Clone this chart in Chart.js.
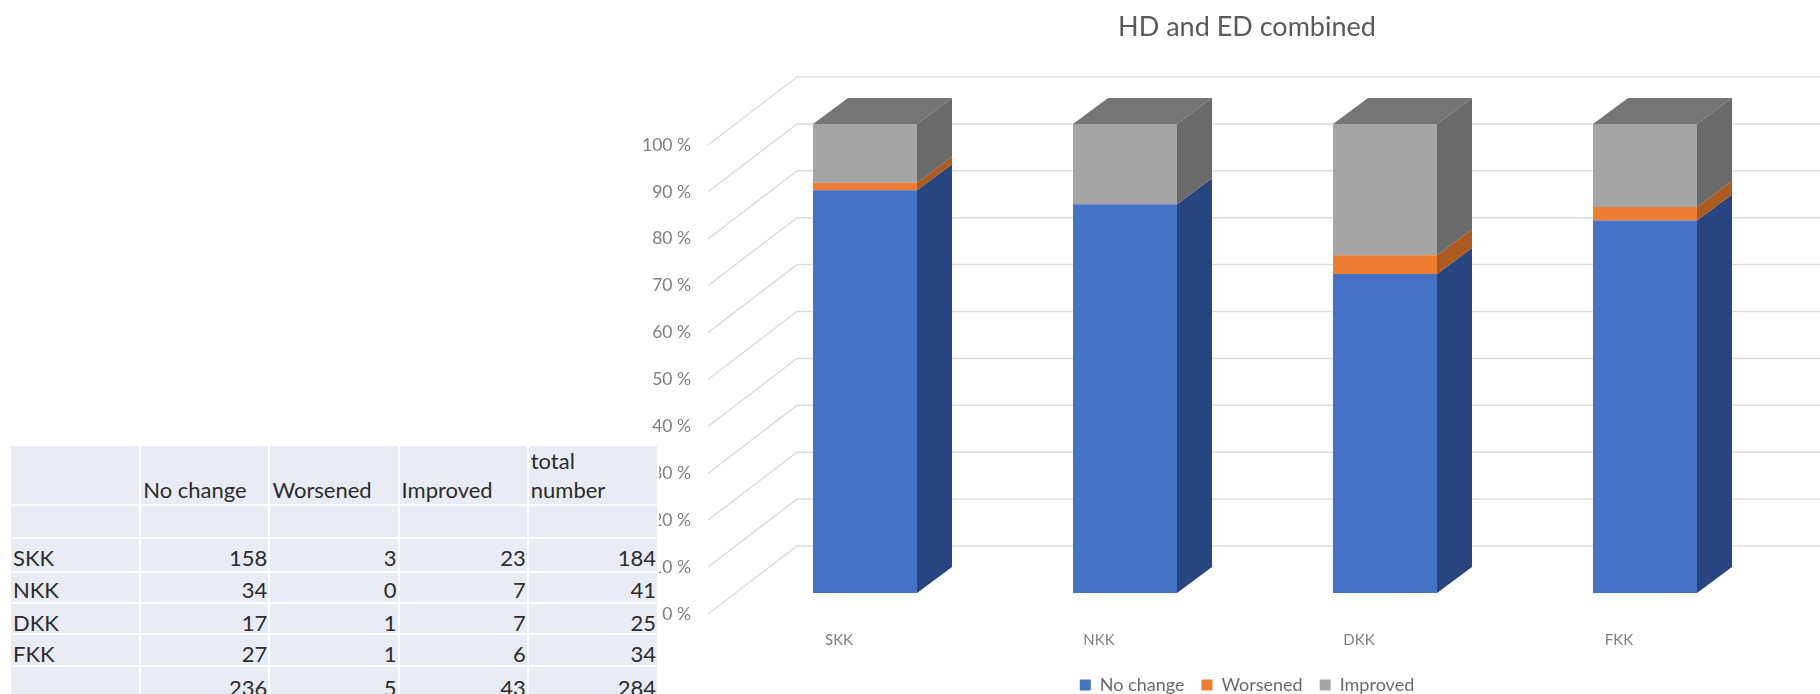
<!DOCTYPE html>
<html>
<head>
<meta charset="utf-8">
<script src="https://cdn.jsdelivr.net/npm/chart.js@4/dist/chart.umd.js"></script>
<style>
html,body{margin:0;padding:0;background:#fff;width:1820px;height:694px;overflow:hidden}
#c{position:absolute;left:0;top:0;width:1820px;height:694px}
#t{position:absolute;left:9px;top:444px;width:650px;table-layout:fixed;border-collapse:separate;border-spacing:2px;z-index:2;
font-family:Lato,sans-serif;font-size:22px;color:#2b2b2b;background:#fff}
#t td{background:#e9ebf5;padding:0 1px 0 2px;vertical-align:bottom;line-height:22px;overflow:hidden;white-space:nowrap}
#t td.n{text-align:right}
#t tr.h td{line-height:29px;padding-bottom:0;white-space:pre-line}
#t tr:nth-child(3) td{line-height:26px}
#t tr:nth-child(4) td{line-height:24px}
#t tr:nth-child(5) td{line-height:20px}
</style>
</head>
<body>
<canvas id="c" width="1820" height="694"></canvas>
<table id="t"><colgroup><col style="width:128px"><col style="width:127px"><col style="width:127px"><col style="width:127px"><col style="width:128px"></colgroup><tbody id="tb"></tbody></table>
<script>
const categories = ['SKK','NKK','DKK','FKK'];
const seriesNames = ['No change','Worsened','Improved'];
const noChangePct = [85.9,82.9,68.0,79.4];
const worsenedPct = [1.6,0,4.0,2.9];
const improvedPct = [12.5,17.1,28.0,17.7];
const tickLabels = ['0 %','10 %','20 %','30 %','40 %','50 %','60 %','70 %','80 %','90 %','100 %'];
const chartTitle = 'HD and ED combined';

const tableHeader = ['', 'No change', 'Worsened', 'Improved', 'total\nnumber'];
const tableRowNames = ['SKK','NKK','DKK','FKK',''];
const tableNoChange = [158,34,17,27,236];
const tableWorsened = [3,0,1,1,5];
const tableImproved = [23,7,7,6,43];
const tableTotal = [184,41,25,34,284];

const rowHeights = [57,31,32,29,29,30,32];
const tb = document.getElementById('tb');
function addRow(cells, h, cls){
  const tr = document.createElement('tr');
  tr.style.height = h+'px';
  if(cls) tr.className = cls;
  cells.forEach((v,i)=>{
    const td = document.createElement('td');
    td.style.height = h+'px';
    td.textContent = v;
    if(i>0 && !cls) td.className='n';
    tr.appendChild(td);
  });
  tb.appendChild(tr);
}
addRow(tableHeader, rowHeights[0], 'h');
addRow(['','','','',''], rowHeights[1], 'e');
tableRowNames.forEach((n,i)=>addRow([n,tableNoChange[i],tableWorsened[i],tableImproved[i],tableTotal[i]], rowHeights[i+2]));

const DEPTH_X = 35, DEPTH_Y = 26;
const WALL_BACK_X = 62, WALL_BACK_Y = 47, WALL_FRONT_X = -27, WALL_FRONT_Y = 21;
const sideColors = ['#27457e','#ad5a1e','#6a6a6a'];
const topColor = '#757575';

const walls = {
  id:'walls',
  afterLayout(chart){
    const t = chart.titleBlock; if(t){ t.left -= 16; }
    const l = chart.legend; if(l){ l.left -= 8; l.right -= 8; }
  },
  beforeDatasetsDraw(chart){
    const {ctx,chartArea:a,scales:{y}} = chart;
    ctx.save();
    ctx.strokeStyle='#dcdcdc'; ctx.lineWidth=1.5;
    y.ticks.forEach(t=>{
      const py = y.getPixelForValue(t.value);
      ctx.beginPath();
      ctx.moveTo(a.left+WALL_FRONT_X, py+WALL_FRONT_Y);
      ctx.lineTo(a.left+WALL_BACK_X, py-WALL_BACK_Y);
      ctx.lineTo(chart.width, py-WALL_BACK_Y);
      ctx.stroke();
    });
    ctx.restore();
  },
  afterDatasetsDraw(chart){
    const {ctx} = chart;
    ctx.save();
    chart.data.datasets.forEach((ds,di)=>{
      const meta = chart.getDatasetMeta(di);
      meta.data.forEach(b=>{
        const p = b.getProps(['x','y','base','width'],true);
        const r = p.x+p.width/2, l = p.x-p.width/2;
        if(Math.abs(p.base-p.y)>0.01){
          ctx.fillStyle = sideColors[di];
          ctx.beginPath();
          ctx.moveTo(r,p.y); ctx.lineTo(r+DEPTH_X,p.y-DEPTH_Y);
          ctx.lineTo(r+DEPTH_X,p.base-DEPTH_Y); ctx.lineTo(r,p.base);
          ctx.closePath(); ctx.fill();
        }
        if(di===chart.data.datasets.length-1){
          ctx.fillStyle = topColor;
          ctx.beginPath();
          ctx.moveTo(l,p.y); ctx.lineTo(l+DEPTH_X,p.y-DEPTH_Y);
          ctx.lineTo(r+DEPTH_X,p.y-DEPTH_Y); ctx.lineTo(r,p.y);
          ctx.closePath(); ctx.fill();
        }
      });
    });
    ctx.restore();
  }
};

new Chart(document.getElementById('c'),{
  type:'bar',
  data:{labels:categories,datasets:[
    {label:seriesNames[0],data:noChangePct,backgroundColor:'#4472c4'},
    {label:seriesNames[1],data:worsenedPct,backgroundColor:'#ed7d31'},
    {label:seriesNames[2],data:improvedPct,backgroundColor:'#a5a5a5'}
  ]},
  plugins:[walls],
  options:{
    responsive:false,animation:false,devicePixelRatio:1,
    layout:{padding:{left:0,right:45,top:0,bottom:-10}},
    datasets:{bar:{barPercentage:0.4,categoryPercentage:1,borderWidth:0}},
    scales:{
      x:{stacked:true,grid:{display:false,drawTicks:false},border:{display:false},
        afterFit(s){s.height=66;},
        ticks:{color:'#7f7f7f',font:{family:'Lato',size:15},padding:38,labelOffset:-26,maxRotation:0}},
      y:{stacked:true,min:0,max:100,grid:{display:false,drawTicks:false},border:{display:false},
        afterFit(s){s.width=735;},
        ticks:{stepSize:10,color:'#7f7f7f',font:{family:'Lato',size:17.5},padding:44,labelOffset:21,
          callback(v){return tickLabels[Math.round(v/10)];}}}
    },
    plugins:{
      title:{display:true,text:chartTitle,fullSize:false,color:'#595959',
        font:{family:'Lato',size:27,weight:'normal'},padding:{top:11,bottom:80.6}},
      legend:{position:'bottom',fullSize:false,
        labels:{boxWidth:11,boxHeight:11,padding:17,color:'#6b6b6b',font:{family:'Lato',size:18}}},
      tooltip:{enabled:false}
    }
  }
});
</script>
</body>
</html>
